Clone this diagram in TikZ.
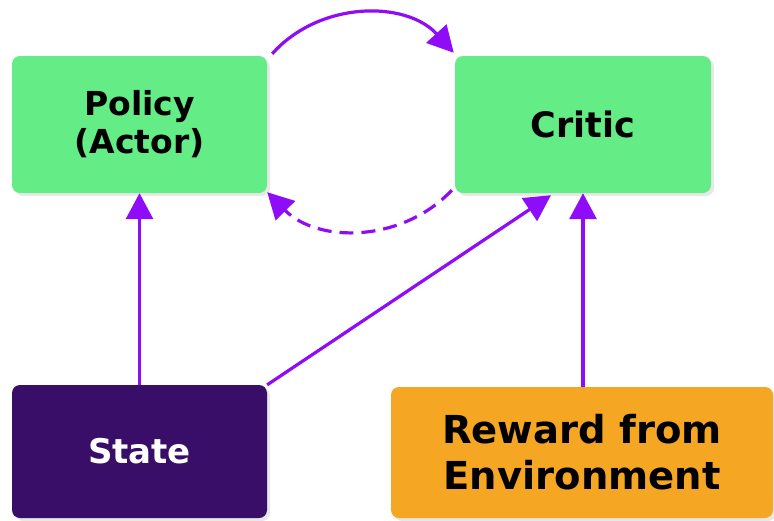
\documentclass[tikz,border=0pt]{standalone}
\usepackage{fontspec}
\setmainfont{DejaVu Sans}
\usetikzlibrary{arrows.meta,shadows}
\definecolor{boxgreen}{HTML}{64EC86}
\definecolor{statepurple}{HTML}{380E68}
\definecolor{rewardorange}{HTML}{F5A623}
\definecolor{arrowviolet}{HTML}{8E0CF7}
\tikzset{
  box/.style={rectangle, rounded corners=8pt, align=center, inner sep=0pt,
    font=\bfseries,
    drop shadow={opacity=0.18, shadow xshift=3pt, shadow yshift=-3pt}},
  greenbox/.style={box, fill=boxgreen, text=black},
  statebox/.style={box, fill=statepurple, text=white},
  rewardbox/.style={box, fill=rewardorange, text=black},
  arr/.style={draw=arrowviolet, line width=3.2pt,
    -{Triangle[length=26pt,width=27pt]}, arrowviolet},
  dasharr/.style={arr, dash pattern=on 14pt off 8pt}
}
\begin{document}
\begin{tikzpicture}[x=1pt,y=1pt]
\useasboundingbox[fill=white] (0,0) rectangle (774,-520);
\node[greenbox, minimum width=255pt, minimum height=137pt,
  font=\bfseries\fontsize{33}{38}\selectfont] (policy) at (139.5,-124.5) {Policy\\(Actor)};
\node[greenbox, minimum width=256pt, minimum height=137pt,
  font=\bfseries\fontsize{35}{40}\selectfont] (critic) at (583,-124.5) {Critic};
\node[statebox, minimum width=255pt, minimum height=133pt,
  font=\bfseries\fontsize{34}{40}\selectfont] (state) at (139.5,-451.5) {State};
\node[rewardbox, minimum width=382pt, minimum height=131pt,
  font=\bfseries\fontsize{38.5}{46}\selectfont] (reward) at (582,-452.5) {Reward from\\Environment};

\draw[arr] (state.north) -- (policy.south);
\draw[arr] (state.north east) -- ([xshift=-32pt,yshift=-2pt]critic.south);
\draw[arr] (critic.south |- reward.north) -- (critic.south);
\draw[arr] ([shift={(5pt,2pt)}]policy.north east) to[bend left=48] ([shift={(-1pt,3pt)}]critic.north west);
\draw[dasharr] ([shift={(-3pt,3pt)}]critic.south west) to[bend left=46] ([shift={(0pt,1pt)}]policy.south east);
\end{tikzpicture}
\end{document}
